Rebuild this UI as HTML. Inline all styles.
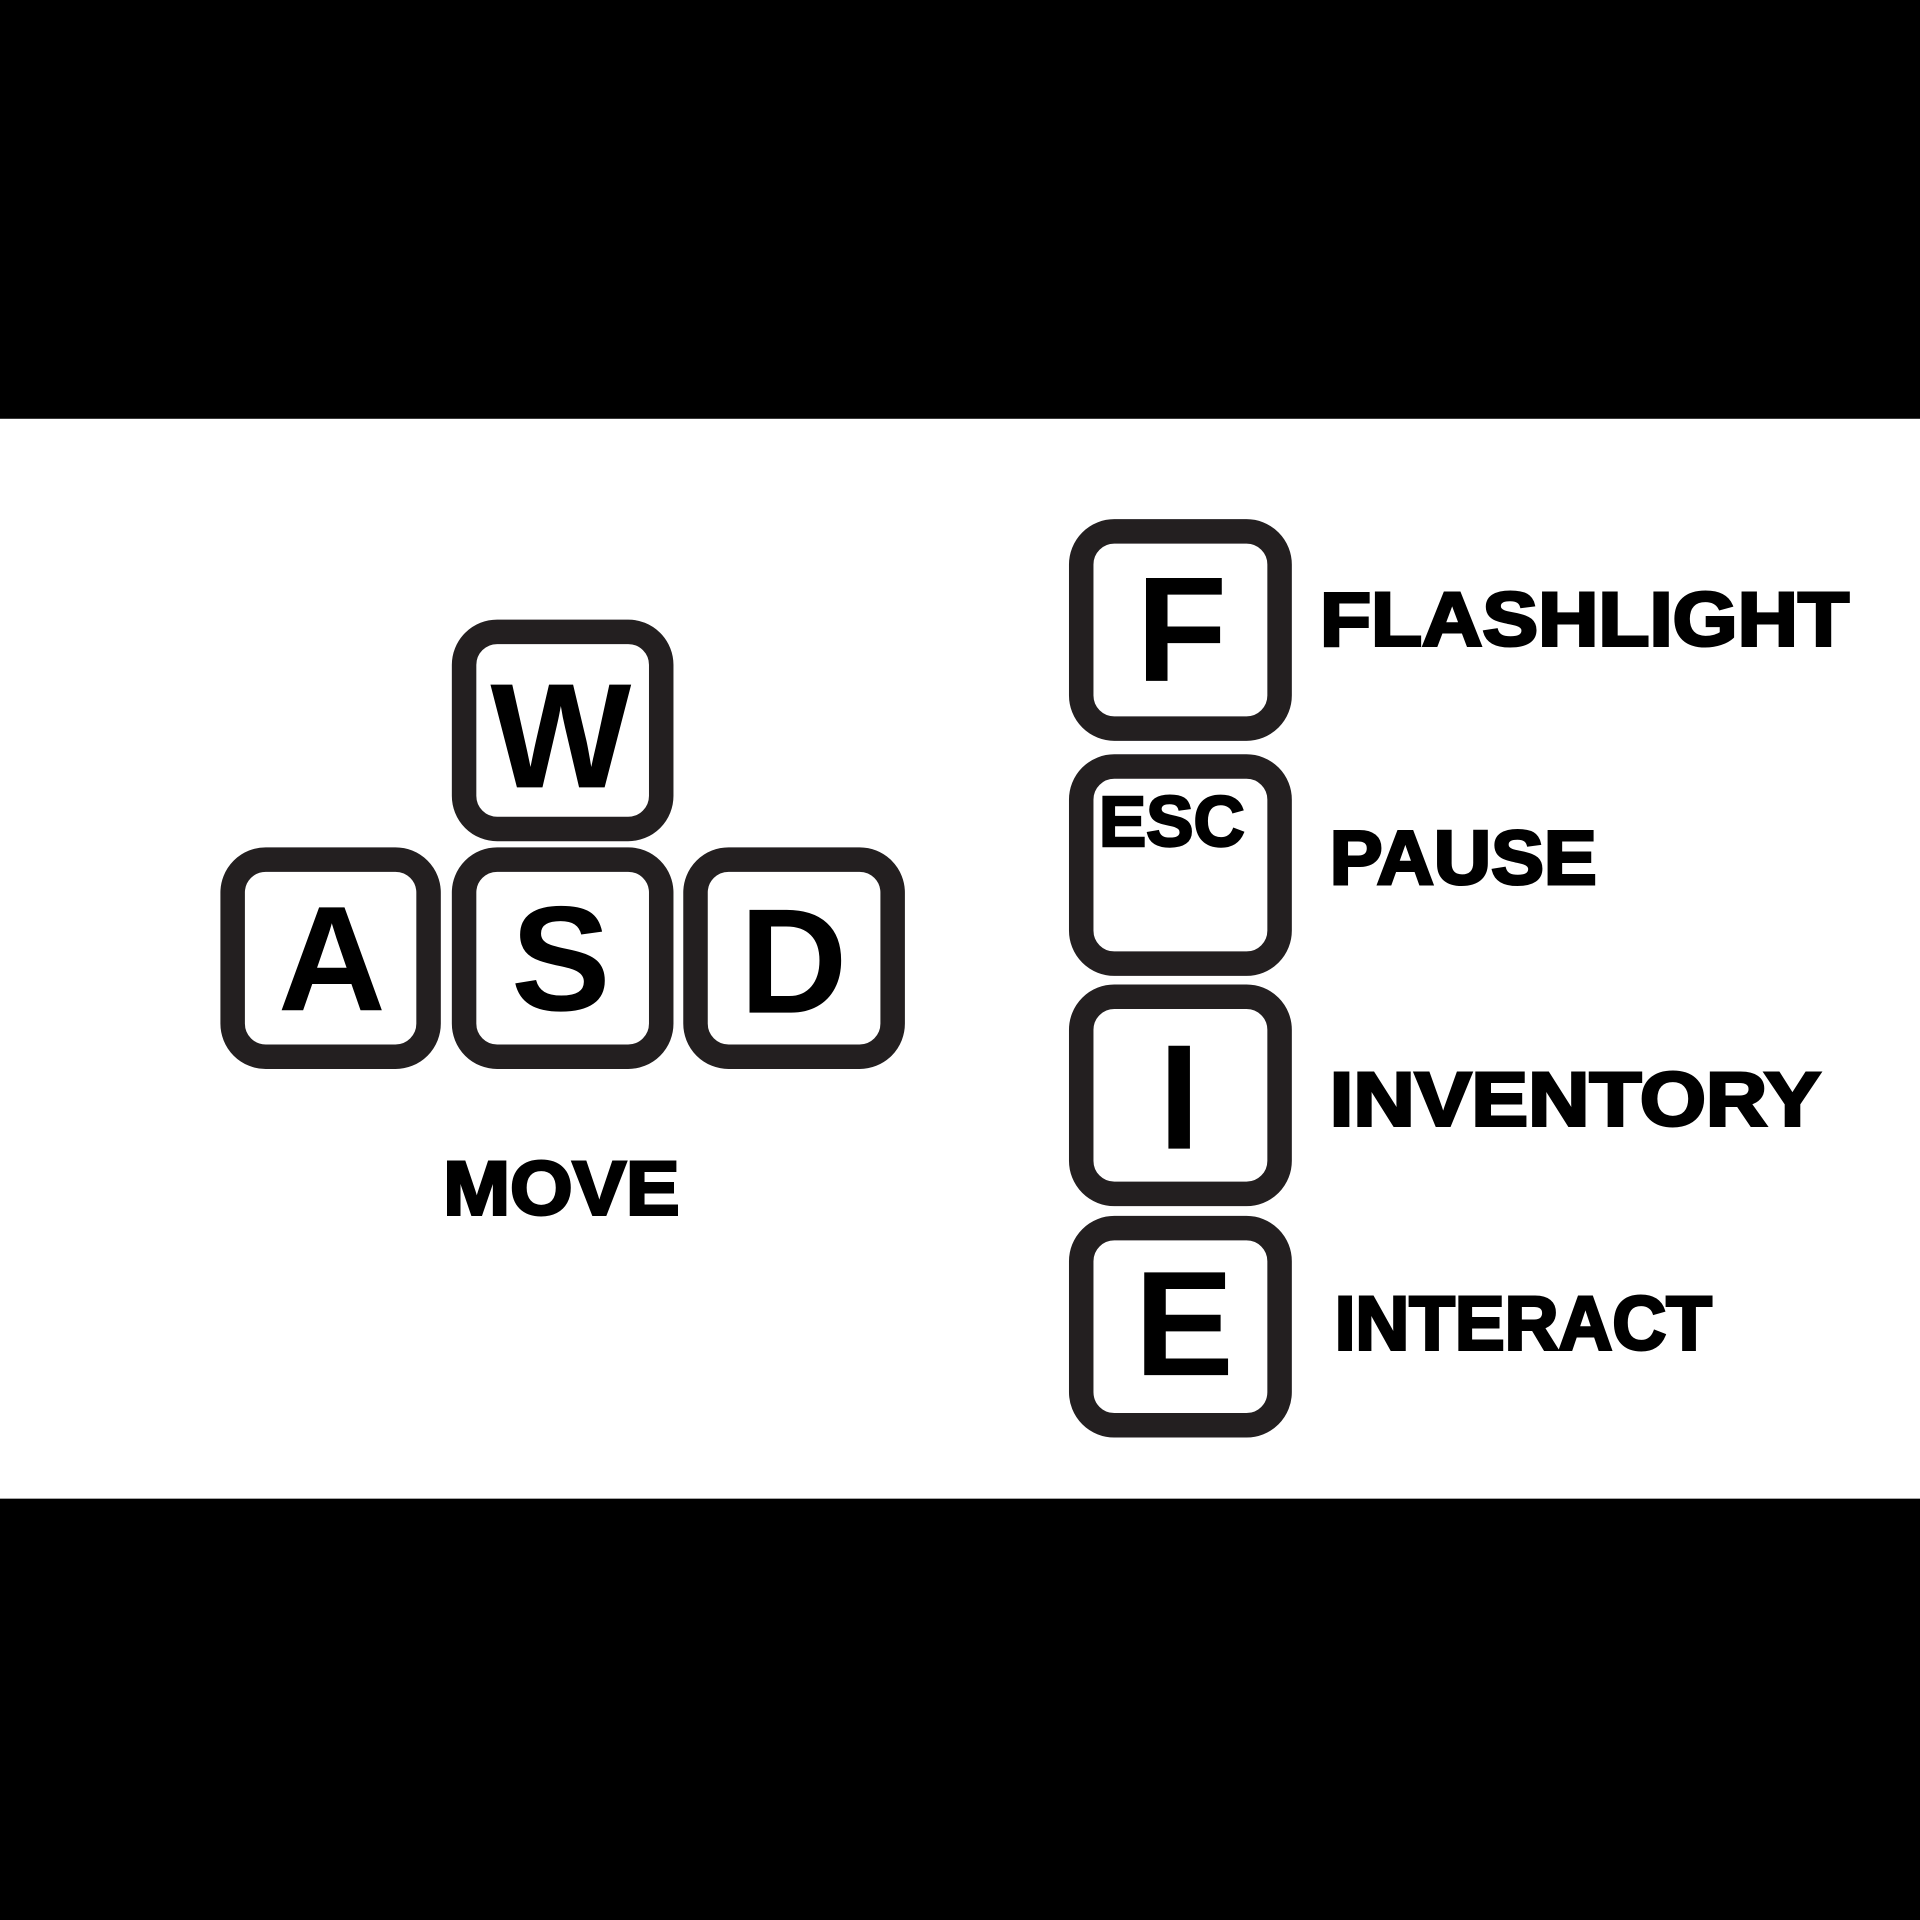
<!DOCTYPE html>
<html><head><meta charset="utf-8"><style>
html,body{margin:0;padding:0;background:#000;}
svg{display:block;}
.k{fill:#fff;stroke:#231f20;stroke-width:20;}
.l{font-family:"Liberation Sans",Arial,sans-serif;font-weight:700;fill:#000;text-anchor:middle;}
.t{font-family:"Liberation Sans",Arial,sans-serif;font-weight:700;fill:#000;stroke:#000;stroke-width:2.5;}
</style></head><body>
<svg width="1920" height="1920" viewBox="0 0 1568 1568" xmlns="http://www.w3.org/2000/svg">
<rect x="0" y="0" width="1568" height="342" fill="#000"/>
<rect x="0" y="342" width="1568" height="882" fill="#fff"/>
<rect x="0" y="1224" width="1568" height="344" fill="#000"/>

<g><rect class="k" x="379" y="516" width="161" height="161" rx="27"/><text class="l" x="458" y="643" font-size="122">W</text></g>
<g><rect class="k" x="190" y="702" width="160" height="161" rx="27"/><text class="l" x="271" y="825" font-size="122">A</text></g>
<g><rect class="k" x="379" y="702" width="161" height="161" rx="27"/><text class="l" x="458" y="825" font-size="122">S</text></g>
<g><rect class="k" x="568" y="702" width="161" height="161" rx="27"/><text class="l" x="648" y="827" font-size="122">D</text></g>
<text class="t" x="362" y="992" font-size="62" textLength="193" lengthAdjust="spacingAndGlyphs">MOVE</text>

<g><rect class="k" x="883" y="434" width="162" height="161" rx="27"/><text class="l" x="965" y="556" font-size="122">F</text></g>
<text class="t" x="1078" y="527" font-size="62" textLength="432" lengthAdjust="spacingAndGlyphs">FLASHLIGHT</text>

<g><rect class="k" x="883" y="626" width="162" height="161" rx="27"/><text class="l" x="957" y="691" font-size="58" stroke="#000" stroke-width="2">ESC</text></g>
<text class="t" x="1086" y="722" font-size="62" textLength="218" lengthAdjust="spacingAndGlyphs">PAUSE</text>

<g><rect class="k" x="883" y="814" width="162" height="161" rx="27"/><text class="l" x="963" y="938" font-size="122">I</text></g>
<text class="t" x="1086" y="919" font-size="62" textLength="401" lengthAdjust="spacingAndGlyphs">INVENTORY</text>

<g><rect class="k" x="883" y="1003" width="162" height="161" rx="27"/><text class="l" x="967" y="1123" font-size="122">E</text></g>
<text class="t" x="1090" y="1102" font-size="62" textLength="308" lengthAdjust="spacingAndGlyphs">INTERACT</text>
</svg>
</body></html>
